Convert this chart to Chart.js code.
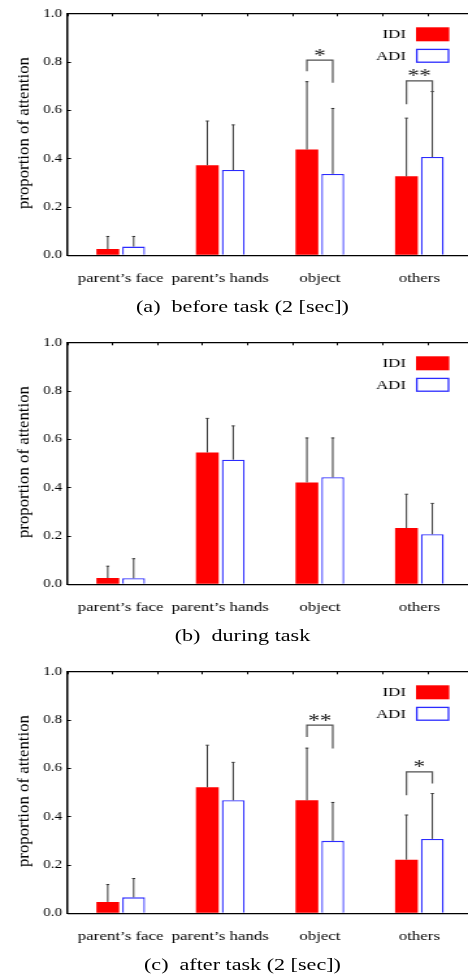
<!DOCTYPE html>
<html>
<head>
<meta charset="utf-8">
<script src="https://cdn.jsdelivr.net/npm/chart.js@4.4.1/dist/chart.umd.min.js"></script>
<style>
  html, body { margin: 0; padding: 0; background: #fff; overflow: hidden; }
  #page { position: relative; width: 372px; height: 980px; transform: scaleX(1.3); transform-origin: 0 0; }
  .panel { position: absolute; left: 0; width: 372px; height: 325px; }
  .box { position: absolute; left: 0; top: 0; width: 372px; height: 290px; }
  .cap { position: absolute; left: 0; top: 296px; width: 373px; text-align: center;
         font: 17px "Liberation Serif", serif; line-height: 22px; color: #000; }
</style>
</head>
<body>
<div id="page">
  <div class="panel" style="top:0px">
    <div class="box"><canvas id="before"></canvas></div>
    <div class="cap">(a)&nbsp; before task (2 [sec])</div>
  </div>
  <div class="panel" style="top:328.7px">
    <div class="box"><canvas id="during"></canvas></div>
    <div class="cap">(b)&nbsp; during task</div>
  </div>
  <div class="panel" style="top:658px">
    <div class="box"><canvas id="after"></canvas></div>
    <div class="cap">(c)&nbsp; after task (2 [sec])</div>
  </div>
</div>
<script>
const categories = ["parent’s face", "parent’s hands", "object", "others"];
const catPos = [1, 2, 3, 4];
const yTicks = [0, 0.2, 0.4, 0.6, 0.8, 1.0];
const seriesNames = ["IDI", "ADI"];

// (a) before task
const idiBefore = [0.026, 0.373, 0.438, 0.327];
const adiBefore = [0.036, 0.353, 0.337, 0.407];
const idiBeforeUp = [0.078, 0.556, 0.719, 0.568];
const adiBeforeUp = [0.078, 0.540, 0.608, 0.678];
const sigBefore = [
  { cat: 2, top: 0.808, left: 0.762, right: 0.714, mark: "*" },
  { cat: 3, top: 0.722, left: 0.625, right: 0.679, mark: "**" }
];

// (b) during task
const idiDuring = [0.026, 0.546, 0.422, 0.233];
const adiDuring = [0.025, 0.516, 0.443, 0.207];
const idiDuringUp = [0.075, 0.687, 0.606, 0.373];
const adiDuringUp = [0.106, 0.656, 0.606, 0.335];
const sigDuring = [];

// (c) after task
const idiAfter = [0.047, 0.522, 0.468, 0.222];
const adiAfter = [0.066, 0.468, 0.300, 0.308];
const idiAfterUp = [0.119, 0.696, 0.684, 0.407];
const adiAfterUp = [0.144, 0.625, 0.459, 0.496];
const sigAfter = [
  { cat: 2, top: 0.779, left: 0.730, right: 0.682, mark: "**" },
  { cat: 3, top: 0.586, left: 0.489, right: 0.537, mark: "*" }
];

const xMin = 0.468, xMax = 4.53, topStep = 0.452;
const serif = "'Liberation Serif', 'Times New Roman', serif";
Chart.defaults.font.family = serif;
Chart.defaults.color = "#000";

// error bars, significance brackets, legend and y title
const extras = {
  id: "extras",
  afterDatasetsDraw(chart, args, opts) {
    const ctx = chart.ctx, y = chart.scales.y;
    ctx.save();
    ctx.strokeStyle = "#333";
    ctx.lineWidth = 1;
    opts.upper.forEach((ups, d) => {
      chart.getDatasetMeta(d).data.forEach((bar, i) => {
        const yt = y.getPixelForValue(ups[i]);
        ctx.beginPath();
        ctx.moveTo(bar.x, bar.y);
        ctx.lineTo(bar.x, yt);
        ctx.moveTo(bar.x - 1.2, yt);
        ctx.lineTo(bar.x + 1.2, yt);
        ctx.stroke();
      });
    });

    ctx.strokeStyle = "#505050";
    ctx.lineWidth = 1.2;
    ctx.fillStyle = "#222";
    ctx.font = "18px " + serif;
    ctx.textAlign = "center";
    ctx.textBaseline = "alphabetic";
    opts.sig.forEach(s => {
      const xl = chart.getDatasetMeta(0).data[s.cat].x;
      const xr = chart.getDatasetMeta(1).data[s.cat].x;
      const yt = y.getPixelForValue(s.top);
      ctx.beginPath();
      ctx.moveTo(xl, y.getPixelForValue(s.left));
      ctx.lineTo(xl, yt);
      ctx.lineTo(xr, yt);
      ctx.lineTo(xr, y.getPixelForValue(s.right));
      ctx.stroke();
      ctx.fillText(s.mark, (xl + xr) / 2, yt + 1.5);
    });
    ctx.restore();
  },
  afterDraw(chart) {
    const ctx = chart.ctx, a = chart.chartArea;
    ctx.save();
    // legend
    ctx.font = "13px " + serif;
    ctx.textAlign = "right";
    ctx.textBaseline = "middle";
    chart.data.datasets.forEach((ds, i) => {
      const top = a.top + 13.5 + i * 21.5;
      ctx.fillStyle = "#000";
      ctx.fillText(ds.label, 312.3, top + 7.5);
      ctx.fillStyle = ds.backgroundColor;
      ctx.fillRect(320, top, 25.6, 14);
      if (ds.borderWidth) {
        ctx.strokeStyle = ds.borderColor;
        ctx.lineWidth = 1.3;
        ctx.strokeRect(320.6, top + 0.6, 24.4, 12.8);
      }
    });
    // y title
    const text = "proportion of attention";
    ctx.font = "11.5px " + serif;
    ctx.fillStyle = "#000";
    ctx.textAlign = "center";
    ctx.textBaseline = "middle";
    const w = ctx.measureText(text).width;
    ctx.translate(18.5, (a.top + a.bottom) / 2 - 1.5);
    ctx.rotate(-Math.PI / 2);
    ctx.scale(152 / w, 1);
    ctx.fillText(text, 0, 0);
    ctx.restore();
  }
};

function makeChart(id, idi, adi, idiUp, adiUp, sig) {
  const toPoints = vals => catPos.map((p, i) => ({ x: p, y: vals[i] }));
  new Chart(document.getElementById(id), {
    type: "bar",
    data: {
      datasets: [
        { label: seriesNames[0], data: toPoints(idi), backgroundColor: "#ff0000", borderWidth: 0 },
        { label: seriesNames[1], data: toPoints(adi), backgroundColor: "#ffffff",
          borderColor: "#2b2bff", borderWidth: 1.3, borderSkipped: "bottom" }
      ]
    },
    plugins: [extras],
    options: {
      responsive: true,
      maintainAspectRatio: false,
      animation: false,
      layout: { padding: { top: 12, right: 8.8, left: 0, bottom: 0 } },
      datasets: { bar: { categoryPercentage: 0.52, barPercentage: 0.88 } },
      scales: {
        x: {
          type: "linear", min: xMin, max: xMax, offset: false,
          afterBuildTicks: s => { s.ticks = catPos.map(v => ({ value: v })); },
          afterFit: s => { s.height = 290 - 255.3; },
          ticks: { autoSkip: false, maxRotation: 0, padding: 7, font: { size: 13 },
                   callback: v => categories[catPos.indexOf(v)] },
          grid: { display: false, offset: false },
          border: { display: true, color: "#000", width: 1.2 }
        },
        x2: {
          type: "linear", position: "top", min: xMin, max: xMax, offset: false,
          afterBuildTicks: s => {
            const t = [];
            for (let v = xMin; v <= xMax + 1e-6; v += topStep) t.push({ value: v });
            s.ticks = t;
          },
          afterFit: s => { s.height = 0; },
          ticks: { display: false },
          grid: { offset: false, drawOnChartArea: false, tickLength: -2.5, color: "#000", lineWidth: 1 },
          border: { display: true, color: "#000", width: 1.2 }
        },
        y: {
          min: 0, max: 1,
          afterBuildTicks: s => { s.ticks = yTicks.map(v => ({ value: v })); },
          afterFit: s => { s.width = 52.1; },
          ticks: { padding: 6.9, font: { size: 11.5 }, callback: v => v.toFixed(1) },
          grid: { drawOnChartArea: false, tickLength: -2.5, color: "#000", lineWidth: 1 },
          border: { display: true, color: "#000", width: 1.5 }
        }
      },
      plugins: {
        legend: { display: false },
        tooltip: { enabled: false },
        extras: { upper: [idiUp, adiUp], sig: sig }
      }
    }
  });
}

makeChart("before", idiBefore, adiBefore, idiBeforeUp, adiBeforeUp, sigBefore);
makeChart("during", idiDuring, adiDuring, idiDuringUp, adiDuringUp, sigDuring);
makeChart("after", idiAfter, adiAfter, idiAfterUp, adiAfterUp, sigAfter);
</script>
</body>
</html>
